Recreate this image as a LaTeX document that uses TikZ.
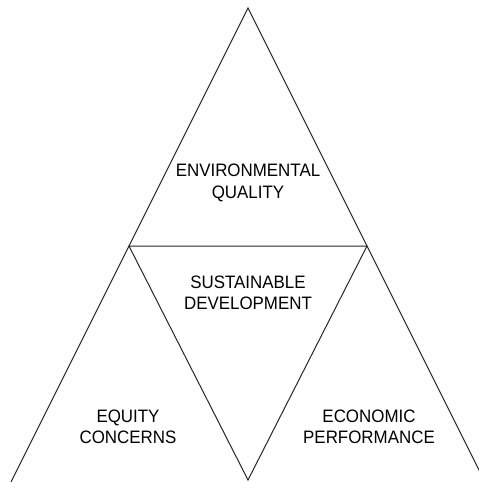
\documentclass[tikz,border=0pt]{standalone}
\usepackage{fontspec}
\setmainfont{Liberation Sans}
\newfontfamily\labelfont[FakeStretch=0.94]{Liberation Sans}
\begin{document}
\begin{tikzpicture}[x=1pt,y=-1pt,
  edge/.style={draw=black!85,line width=1pt},
  label/.style={align=center,font=\labelfont\fontsize{18}{21.5}\selectfont,inner sep=0pt}]
\useasboundingbox (0,0) rectangle (479,482);
\clip (0,0) rectangle (479,482);
% corner points
\coordinate (apex) at (248,8);
\coordinate (tl) at (129,246);
\coordinate (tr) at (367,246);
\coordinate (bot) at (248,480);
\coordinate (ol) at (11,482);
\coordinate (or) at (485,482);
% outer sides
\draw[edge] (ol) -- (apex) -- (or);
% inner inverted triangle
\draw[edge] (tl) -- (tr) -- (bot) -- cycle;
% labels
\node[label] (env) at (248,183) {ENVIRONMENTAL\\QUALITY};
\node[label] (sus) at (248,293) {SUSTAINABLE\\DEVELOPMENT};
\node[label] (equ) at (128,427) {EQUITY\\CONCERNS};
\node[label] (eco) at (369,427) {ECONOMIC\\PERFORMANCE};
\end{tikzpicture}
\end{document}
